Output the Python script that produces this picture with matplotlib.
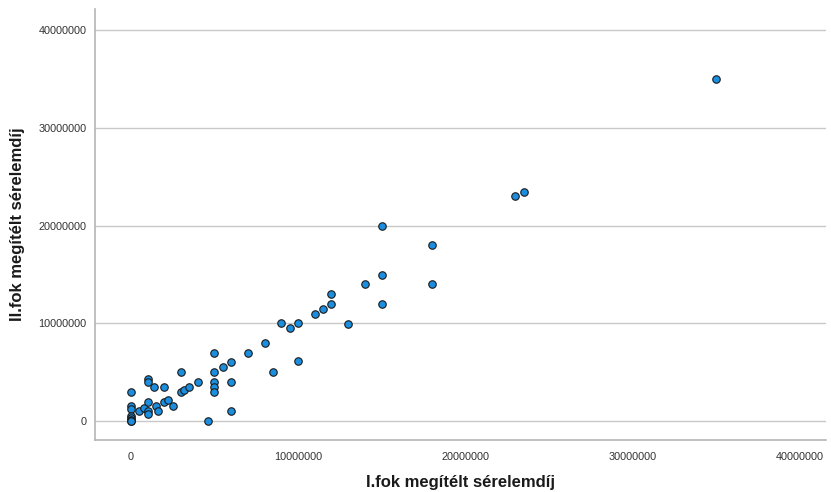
import matplotlib
matplotlib.use("Agg")
import matplotlib.pyplot as plt
from matplotlib.ticker import FixedLocator, FuncFormatter

plt.rcParams['font.family'] = ['Liberation Sans', 'DejaVu Sans']

# Values in millions (Ft)
first_degree = [0, 0, 0, 0, 0, 0, 0, 0,
                0.5, 0.8, 1.0, 1.0, 1.0, 1.0, 1.0, 1.4, 1.5, 1.6,
                2.0, 2.0, 2.2, 2.5, 3.0, 3.0, 3.2, 3.5, 4.0, 4.6,
                5.0, 5.0, 5.0, 5.0, 5.0, 5.5, 6.0, 6.0, 6.0,
                7.0, 8.0, 8.5, 9.0, 9.5, 10.0, 10.0, 11.0, 11.5, 12.0, 12.0,
                13.0, 14.0, 15.0, 15.0, 15.0, 18.0, 18.0, 23.0, 23.5, 35.0]
second_degree = [3.0, 1.5, 1.2, 0.5, 0.3, 0.1, 0, 0,
                 1.0, 1.3, 1.0, 0.75, 2.0, 4.3, 4.0, 3.5, 1.5, 1.0,
                 3.5, 2.0, 2.2, 1.5, 5.0, 3.0, 3.2, 3.5, 4.0, 0,
                 7.0, 5.0, 4.0, 3.5, 3.0, 5.5, 6.0, 4.0, 1.0,
                 7.0, 8.0, 5.0, 10.0, 9.5, 10.0, 6.2, 11.0, 11.5, 12.0, 13.0,
                 9.9, 14.0, 20.0, 15.0, 12.0, 18.0, 14.0, 23.0, 23.5, 35.0]
tick_values = [0, 10000000, 20000000, 30000000, 40000000]
x_label = "I.fok megítélt sérelemdíj"
y_label = "II.fok megítélt sérelemdíj"

xs = [v * 1e6 for v in first_degree]
ys = [v * 1e6 for v in second_degree]

fig = plt.figure(figsize=(8.31, 4.92), dpi=100)
ax = fig.add_axes([0.1143, 0.1057, 0.994 - 0.1143, 0.9817 - 0.1057])

ax.scatter(xs, ys, s=29, facecolor='#1b8ee0', edgecolor='#1a1a1a',
           linewidth=0.8, zorder=3)

ax.set_xlim(-2.15e6, 41.6e6)
ax.set_ylim(-1.94e6, 42.2e6)
ax.xaxis.set_major_locator(FixedLocator(tick_values))
ax.yaxis.set_major_locator(FixedLocator(tick_values))
fmt = FuncFormatter(lambda v, p: f"{int(round(v))}")
ax.xaxis.set_major_formatter(fmt)
ax.yaxis.set_major_formatter(fmt)

ax.grid(axis='y', color='#c8c8c8', linewidth=1.0, zorder=0)
ax.set_axisbelow(True)
for s in ['top', 'right']:
    ax.spines[s].set_visible(False)
for s in ['left', 'bottom']:
    ax.spines[s].set_color('#b5b5b5')
    ax.spines[s].set_linewidth(1.2)
ax.tick_params(axis='x', length=0, labelsize=7.8, labelcolor='#333333', pad=9)
ax.tick_params(axis='y', length=0, labelsize=7.8, labelcolor='#333333', pad=6)

ax.set_xlabel(x_label, fontsize=12, fontweight='bold', color='#1a1a1a', labelpad=9)
ax.set_ylabel(y_label, fontsize=12, fontweight='bold', color='#1a1a1a', labelpad=10)

fig.savefig("out.png", dpi=100)
